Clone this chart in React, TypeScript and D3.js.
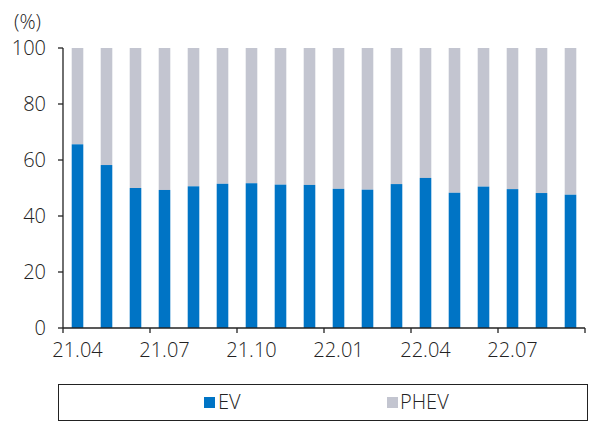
import React from 'react';
import * as d3 from 'd3';

const months = [
  '21.04', '21.05', '21.06', '21.07', '21.08', '21.09', '21.10', '21.11', '21.12',
  '22.01', '22.02', '22.03', '22.04', '22.05', '22.06', '22.07', '22.08', '22.09',
];
const evShare = [65.6, 58.2, 50.0, 49.3, 50.6, 51.5, 51.7, 51.2, 51.1, 49.7, 49.4, 51.4, 53.6, 48.3, 50.5, 49.6, 48.2, 47.6];
const yTicks = [0, 20, 40, 60, 80, 100];
const labelEvery = 3;

const EV_COLOR = '#0074c5';
const PHEV_COLOR = '#c3c5d0';
const AXIS = '#222';
const FONT = '"Open Sans", "Noto Sans", sans-serif';

const App: React.FC = () => {
  const width = 592;
  const height = 421;
  const left = 63;
  const right = 585;
  const top = 48;
  const bottom = 328;

  // band boundaries (Excel-style category axis, ticks between categories)
  const xb = d3.scaleLinear().domain([0, months.length]).range([left, right]);
  const step = xb(1) - xb(0);
  const y = d3.scaleLinear().domain([0, 100]).range([bottom, top]);

  const bw = step * 0.4;
  const barX = (i: number) => xb(i) + (step - bw) / 2;

  const tickIdx = d3.range(0, months.length + 1, labelEvery);

  return (
    <svg
      width={width}
      height={height}
      style={{ position: 'absolute', left: 0, top: 0, background: '#fff' }}
      fontFamily={FONT}
      fontWeight={300}
    >
      <text x={14} y={29} fontSize={20} fill="#222">(%)</text>

      {months.map((m, i) => (
        <g key={m}>
          <rect x={barX(i)} y={y(100)} width={bw} height={y(evShare[i]) - y(100)} fill={PHEV_COLOR} />
          <rect x={barX(i)} y={y(evShare[i])} width={bw} height={y(0) - y(evShare[i])} fill={EV_COLOR} />
        </g>
      ))}

      {/* y axis */}
      <line x1={left} x2={left} y1={y(100)} y2={y(0)} stroke={AXIS} strokeWidth={1.3} />
      {yTicks.map((t) => (
        <g key={t}>
          <line x1={left - 5} x2={left} y1={y(t)} y2={y(t)} stroke={AXIS} strokeWidth={1.3} />
          <text x={46} y={y(t)} dy="0.36em" textAnchor="end" fontSize={20} fill="#222">{t}</text>
        </g>
      ))}

      {/* x axis */}
      <line x1={left} x2={right} y1={y(0)} y2={y(0)} stroke={AXIS} strokeWidth={1.3} />
      {tickIdx.map((i) => (
        <line key={i} x1={xb(i)} x2={xb(i)} y1={y(0)} y2={y(0) + 5} stroke={AXIS} strokeWidth={1.3} />
      ))}
      {months.map((m, i) =>
        i % labelEvery === 0 ? (
          <text key={m} x={xb(i) + step / 2} y={357} textAnchor="middle" fontSize={20} fill="#222">{m}</text>
        ) : null
      )}

      {/* legend */}
      <rect x={58.5} y={384.5} width={529} height={36} fill="none" stroke={AXIS} strokeWidth={1} />
      <rect x={204} y={397} width={11} height={11} fill={EV_COLOR} />
      <text x={218} y={409} fontSize={20} fill="#222">EV</text>
      <rect x={387} y={397} width={11} height={11} fill={PHEV_COLOR} />
      <text x={400} y={409} fontSize={20} fill="#222">PHEV</text>
    </svg>
  );
};

export default App;
